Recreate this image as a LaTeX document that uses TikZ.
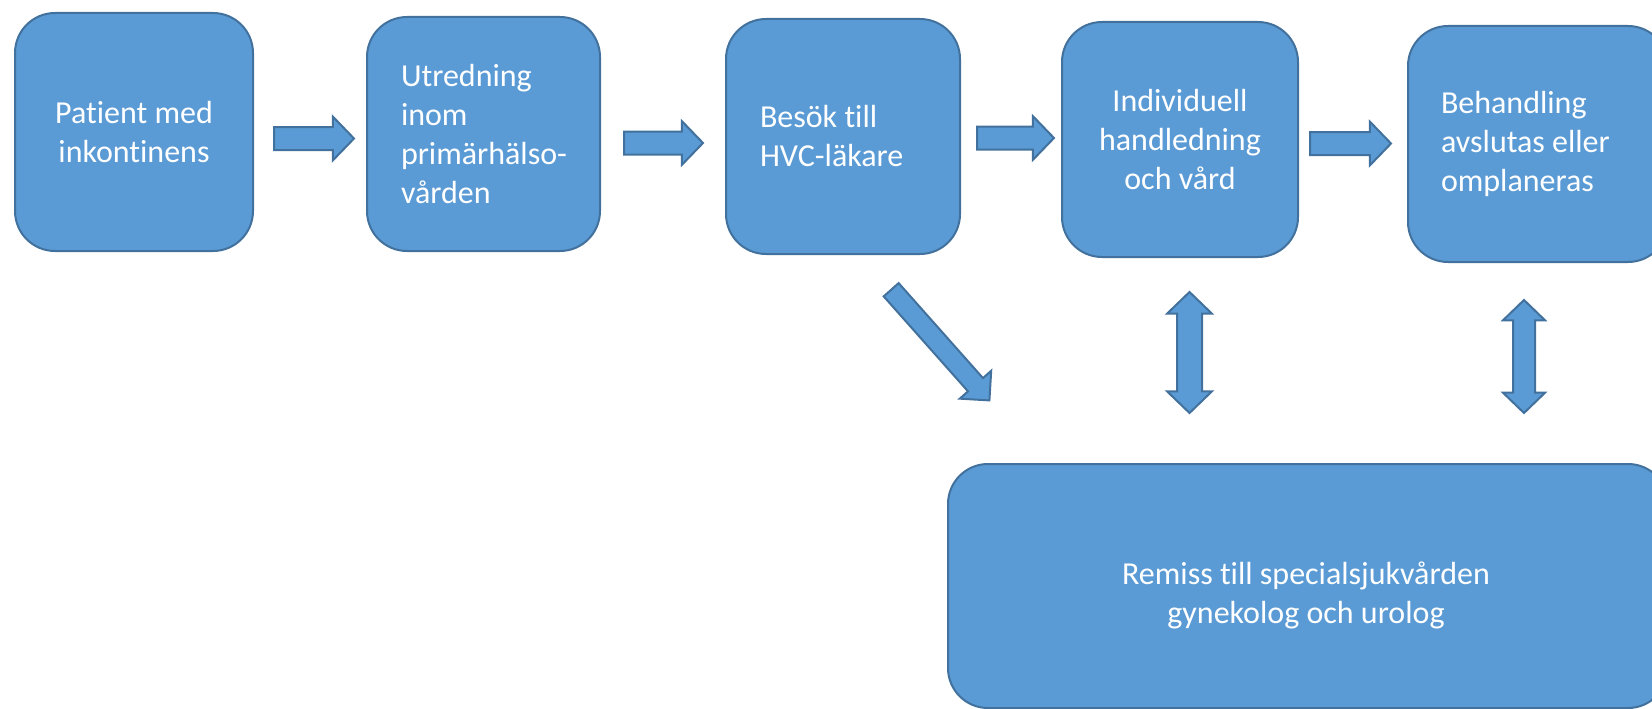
\documentclass[tikz,border=0pt]{standalone}
\usepackage{fontspec}
\setmainfont[Ligatures=NoCommon]{Carlito}
\usetikzlibrary{shapes.arrows}
\definecolor{boxfill}{RGB}{91,155,213}
\definecolor{boxline}{RGB}{65,113,156}
\tikzset{
  flowbox/.style={draw=boxline, fill=boxfill, line width=2pt, rounded corners=40pt,
    text=white, font=\fontsize{32}{39}\selectfont, inner sep=0pt},
  leftbox/.style={flowbox, align=flush left, inner xsep=34pt},
  midbox/.style={flowbox, align=center},
  blockarrow/.style={single arrow, draw=boxline, fill=boxfill, line width=2pt,
    inner xsep=0pt, inner ysep=10.5pt, minimum width=42pt, single arrow head extend=10.5pt,
    single arrow tip angle=92, anchor=tail},
  dblarrow/.style={double arrow, draw=boxline, fill=boxfill, line width=2pt,
    shape border rotate=90, double arrow tip angle=92}
}
\begin{document}
\begin{tikzpicture}[x=1pt,y=-1pt]
\useasboundingbox (0,0) rectangle (1652,709);
\clip (0,0) rectangle (1652,709);
% boxes
\node[midbox, minimum width=238pt, minimum height=238pt] (b1) at (134,132)
  {Patient med\\inkontinens};
\node[leftbox, text width=165pt, minimum height=234pt] (b2) at (483.5,134)
  {\mbox{Utredning}\\\mbox{inom}\\\mbox{primärhälso-}\\\mbox{vården}};
\node[leftbox, text width=166pt, minimum height=235pt] (b3) at (843,136.5)
  {Besök till\\HVC-läkare};
\node[midbox, minimum width=236pt, minimum height=235pt] (b4) at (1180,139.5)
  {Individuell\\handledning\\och vård};
\node[leftbox, text width=194pt, inner xsep=33pt, minimum height=236pt] (b5) at (1538,144)
  {Behandling\\avslutas eller\\omplaneras};
\node[flowbox, minimum width=720pt, minimum height=244pt] (b6) at (1308,586) {};
\node[text=white, font=\fontsize{32}{39}\selectfont, align=center, inner sep=0pt]
  (b6text) at (1306,595) {Remiss till specialsjukvården\\gynekolog och urolog};
% horizontal arrows
\node[blockarrow, minimum height=80pt] (a1) at (273,138.5) {};
\node[blockarrow, minimum height=79pt] (a2) at (623,143) {};
\node[blockarrow, minimum height=77pt] (a3) at (976,138) {};
\node[blockarrow, minimum height=81pt] (a4) at (1309,143.5) {};
% diagonal arrow
\node[blockarrow, minimum height=148pt, minimum width=40pt, inner ysep=9pt,
  single arrow head extend=11pt, single arrow tip angle=90, rotate=-48.4] (a5) at (890.5,289) {};
% double arrows
\node[dblarrow, inner xsep=11.5pt, inner ysep=0pt, minimum height=121pt, minimum width=43pt,
  double arrow head extend=10pt] (d1) at (1189.5,352.5) {};
\node[dblarrow, inner xsep=10pt, inner ysep=0pt, minimum height=113pt, minimum width=40pt,
  double arrow head extend=10pt] (d2) at (1524,356.5) {};
\end{tikzpicture}
\end{document}
